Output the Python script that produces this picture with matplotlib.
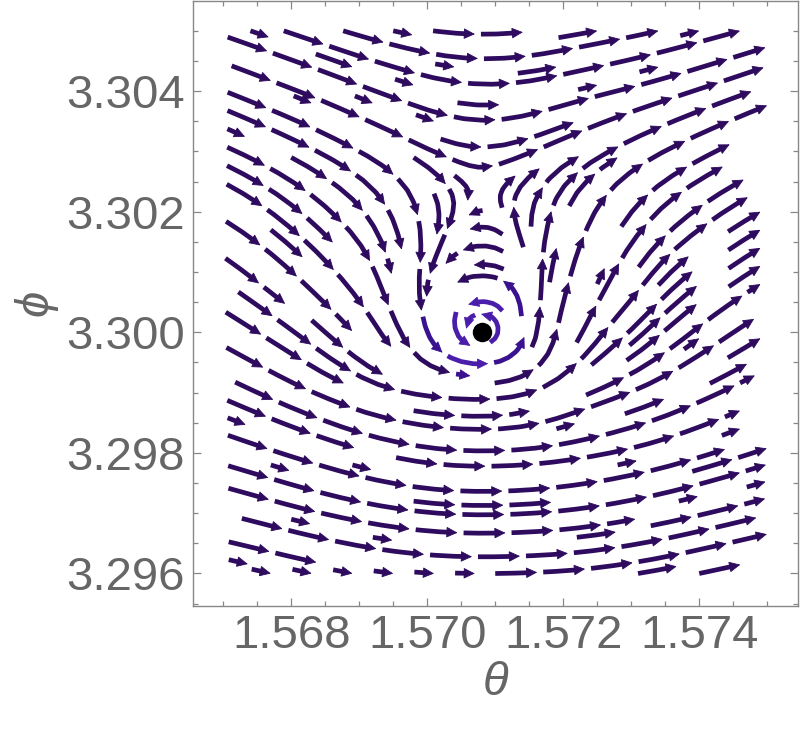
import numpy as np
import matplotlib.pyplot as plt
from matplotlib.patches import FancyArrowPatch, ArrowStyle
from matplotlib.collections import LineCollection
from matplotlib.ticker import MultipleLocator, FormatStrFormatter

# fixed point marked with the black dot
theta_c, phi_c = np.pi / 2, 3.300

theta_nodes = theta_c + 0.001 * np.arange(-4, 6)
phi_nodes = 3.296 + 0.001 * np.arange(10)

# on-screen direction of the streams at each node (deg), rows phi 3.296 -> 3.305
angle_deg = [
    [-12, -13, -11,  -5,   0,  3,  8, 12, 12, 12],
    [-14, -15, -12,  -7,   0,  5, 10, 13, 14, 14],
    [-17, -18, -17, -10,   0,  7, 12, 17, 18, 18],
    [-24, -25, -22, -10,   0, 25, 21, 25, 25, 25],
    [-29, -34, -45, -70,   0, 82, 45, 39, 32, 32],
    [-34, -41, -50, -90, 180, 80, 62, 40, 32, 32],
    [-29, -38, -45, -75, 180, 75, 56, 38, 30, 30],
    [-24, -26, -28, -28,   0, 25, 29, 27, 27, 27],
    [-22, -21, -22, -18,  -2, 13, 14, 18, 20, 20],
    [-19, -19, -17, -11,   0,  9, 11, 14, 16, 16],
]
# relative speed at each node (0 at the fixed point, small near the saddle)
speed = [
    [1.0, 1.0, 1.0, 1.0, 1.0, 1.0, 1.0, 1.0, 1.0, 1.0],
    [1.0, 1.0, 1.0, 1.0, 1.1, 1.0, 1.0, 1.0, 1.0, 1.0],
    [1.0, 1.0, 1.0, 1.1, 1.3, 1.1, 1.0, 1.0, 1.0, 1.0],
    [1.0, 1.0, 1.0, 1.2, 1.4, 1.2, 1.0, 1.0, 1.0, 1.0],
    [1.0, 1.0, 1.1, 1.1, 0.0, 1.1, 1.1, 1.0, 1.0, 1.0],
    [1.0, 1.0, 1.0, 1.1, 1.2, 1.1, 1.0, 1.0, 1.0, 1.0],
    [1.0, 1.0, 1.0, 0.9, 0.3, 0.9, 1.0, 1.0, 1.0, 1.0],
    [1.0, 1.0, 1.0, 0.9, 0.45, 0.9, 1.0, 1.0, 1.0, 1.0],
    [1.0, 1.0, 1.0, 1.0, 0.8, 1.0, 1.0, 1.0, 1.0, 1.0],
    [1.0, 1.0, 1.0, 1.0, 1.0, 1.0, 1.0, 1.0, 1.0, 1.0],
]

theta_dom = (1.567, 1.575)
phi_dom = (3.296, 3.305)
xlim = (1.566556, 1.575444)
ylim = (3.295466, 3.305494)

ring_colors = ['#3d86e6', '#4a1eaa', '#3a1290']
base_color = '#2e0b5e'
grey = '#666666'

fig = plt.figure(figsize=(8.0, 7.34), dpi=100)
ax = fig.add_axes([0.2416, 0.1748, 0.7555, 0.8238])

ang = np.radians(np.array(angle_deg, dtype=float))
spd = np.array(speed)
xspan = xlim[1] - xlim[0]
yspan = ylim[1] - ylim[0]
U = spd * np.cos(ang) * xspan
V = spd * np.sin(ang) * yspan

sp = ax.streamplot(theta_nodes, phi_nodes, U, V, density=1.05,
                   minlength=0.03, linewidth=3, color=base_color,
                   arrowstyle='-', broken_streamlines=True)
segs = sp.lines.get_segments()
sp.lines.remove()
for p in list(ax.patches):
    p.remove()

ax.set_xlim(*xlim)
ax.set_ylim(*ylim)

px_x = 604.4 / xspan
px_y = 604.7 / yspan
piece_len, gap = 42.0, 6.0
head_len = 10.0
style = ArrowStyle('-|>', head_length=7.0, head_width=3.4)
lines, colors = [], []


def point_at(s, sv, pts):
    return np.array([np.interp(s, sv, pts[:, 0]), np.interp(s, sv, pts[:, 1])])


for seg in segs:
    inside = ((seg[:, 0] >= theta_dom[0]) & (seg[:, 0] <= theta_dom[1]) &
              (seg[:, 1] >= phi_dom[0]) & (seg[:, 1] <= phi_dom[1]))
    pts = seg[inside]
    if len(pts) < 2:
        continue
    step = np.hypot(np.diff(pts[:, 0]) * px_x, np.diff(pts[:, 1]) * px_y)
    sv = np.concatenate([[0], np.cumsum(step)])
    total = sv[-1]
    start = 0.0
    while start < total - 14:
        end = min(start + piece_len, total)
        n = max(int((end - start) / 3), 2)
        ss = np.linspace(start, end, n + 1)
        piece = np.column_stack([np.interp(ss, sv, pts[:, 0]),
                                 np.interp(ss, sv, pts[:, 1])])
        r = np.hypot((piece[:, 0] - theta_c) * px_x,
                     (piece[:, 1] - phi_c) * px_y).mean()
        if r < 12:
            c = ring_colors[0]
        elif r < 36:
            c = ring_colors[1]
        elif r < 56:
            c = ring_colors[2]
        else:
            c = base_color
        shaft = piece[ss <= end - head_len * 0.7]
        if len(shaft) >= 2:
            lines.append(shaft)
            colors.append(c)
        tail = point_at(max(end - head_len, start), sv, pts)
        ax.add_patch(FancyArrowPatch(posA=tuple(tail), posB=tuple(piece[-1]),
                                     arrowstyle=style, mutation_scale=1,
                                     color=c, lw=0.6, shrinkA=0, shrinkB=0))
        start = end + gap

ax.add_collection(LineCollection(lines, colors=colors, linewidths=3.4,
                                 capstyle='butt', joinstyle='round'))

ax.plot([theta_c], [phi_c], 'o', color='black', markersize=13, zorder=5)

ax.xaxis.set_major_locator(MultipleLocator(0.002))
ax.xaxis.set_minor_locator(MultipleLocator(0.0005))
ax.yaxis.set_major_locator(MultipleLocator(0.002))
ax.yaxis.set_minor_locator(MultipleLocator(0.0005))
ax.xaxis.set_major_formatter(FormatStrFormatter('%.3f'))
ax.yaxis.set_major_formatter(FormatStrFormatter('%.3f'))
ax.tick_params(which='both', direction='in', top=True, right=True,
               color='#888888', width=0.9)
ax.tick_params(which='major', length=6, labelsize=34, labelcolor=grey,
               pad=6)
ax.tick_params(which='minor', length=3.5)
for tl in ax.get_xticklabels() + ax.get_yticklabels():
    tl.set_family('Liberation Sans')
for sp_ in ax.spines.values():
    sp_.set_color('#888888')
    sp_.set_linewidth(1.0)

ax.set_xlabel('θ', fontsize=34, color=grey, style='italic',
              family='Liberation Sans', labelpad=2)
ax.set_ylabel('ϕ', fontsize=34, color=grey, style='italic',
              family=['Liberation Sans', 'DejaVu Sans'], labelpad=6)

fig.savefig('out.png', dpi=100)
